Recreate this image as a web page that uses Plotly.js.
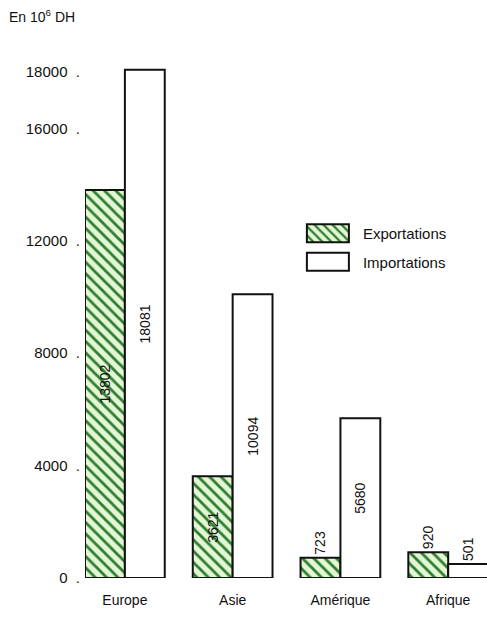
<!DOCTYPE html>
<html><head><meta charset="utf-8">
<script src="https://cdn.plot.ly/plotly-3.0.1.min.js"></script>
<style>html,body{margin:0;padding:0;background:#fff}</style>
</head><body><div id="chart" style="width:487px;height:621px"></div>
<script>
const categories = ["Europe", "Asie", "Amérique", "Afrique"];
const exportations = [13802, 3621, 723, 920];
const importations = [18081, 10094, 5680, 501];
const tickValues = [0, 4000, 8000, 12000, 16000, 18000];
const tickLabels = ["0", "4000", "8000", "12000", "16000", "18000"];

const font = "Liberation Sans, Arial, sans-serif";
const traces = [
  {
    type: "bar", name: "Exportations", legendgroup: "exp", x: categories, y: exportations,
    text: exportations.map(String), textposition: ["inside", "inside", "outside", "outside"],
    textangle: -90, insidetextanchor: "middle", constraintext: "none",
    textfont: {size: 14, color: "#111", family: font},
    marker: {color: "#dff5d0", line: {color: "#111", width: 2},
      pattern: {shape: "\\", fgcolor: "#2f7d2f", bgcolor: "#e3f7d6", size: 8, solidity: 0.35}},
    cliponaxis: false
  },
  {
    type: "bar", name: "Importations", legendgroup: "imp", x: categories, y: importations,
    text: importations.map(String), textposition: ["inside", "inside", "inside", "outside"],
    textangle: -90, insidetextanchor: "middle", constraintext: "none",
    textfont: {size: 14, color: "#111", family: font},
    marker: {color: "#ffffff", line: {color: "#111", width: 2}},
    cliponaxis: false
  }
];
const layout = {
  width: 487, height: 621,
  margin: {l: 85, r: 0, t: 58, b: 43},
  paper_bgcolor: "#fff", plot_bgcolor: "#fff",
  barmode: "group", bargap: 0.26, bargroupgap: 0,
  font: {family: font, color: "#111", size: 14},
  showlegend: true,
  legend: {x: 0.547, y: 0.694, xanchor: "left", yanchor: "top",
    font: {size: 15, color: "#111"}, bgcolor: "rgba(0,0,0,0)", tracegroupgap: 6,
    traceorder: "grouped", itemwidth: 60},
  xaxis: {type: "category", range: [-0.37, 3.36], showline: false, showgrid: false,
    zeroline: false, ticks: "", tickfont: {size: 14}, ticklabelstandoff: 12},
  yaxis: {range: [0, 18500], tickvals: tickValues,
    ticktext: tickLabels.map(t => t + "\u00a0\u00a0."),
    showline: false, showgrid: false, zeroline: false, ticks: "",
    tickfont: {size: 15, color: "#111"}, ticklabelstandoff: 4},
  annotations: [{text: "En 10<sup>6</sup> DH", xref: "paper", yref: "paper",
    x: -0.195, y: 1.06, xanchor: "left", yanchor: "bottom", showarrow: false,
    font: {size: 14, color: "#111"}}]
};
Plotly.newPlot("chart", traces, layout, {displayModeBar: false, staticPlot: true}).then(gd => {
  // enlarge legend swatches to resemble the reference boxes
  gd.querySelectorAll(".legend .traces").forEach(tr => {
    const lp = tr.querySelector(".legendpoints");
    if (lp) lp.setAttribute("transform", "translate(0,0)");
    tr.querySelectorAll(".legendpoints path").forEach(p => {
      p.setAttribute("d", "M2,-9H44V9H2Z");
      p.removeAttribute("transform");
    });
    const t = tr.querySelector(".legendtext");
    if (t) t.setAttribute("x", "58");
  });
});
</script></body></html>
